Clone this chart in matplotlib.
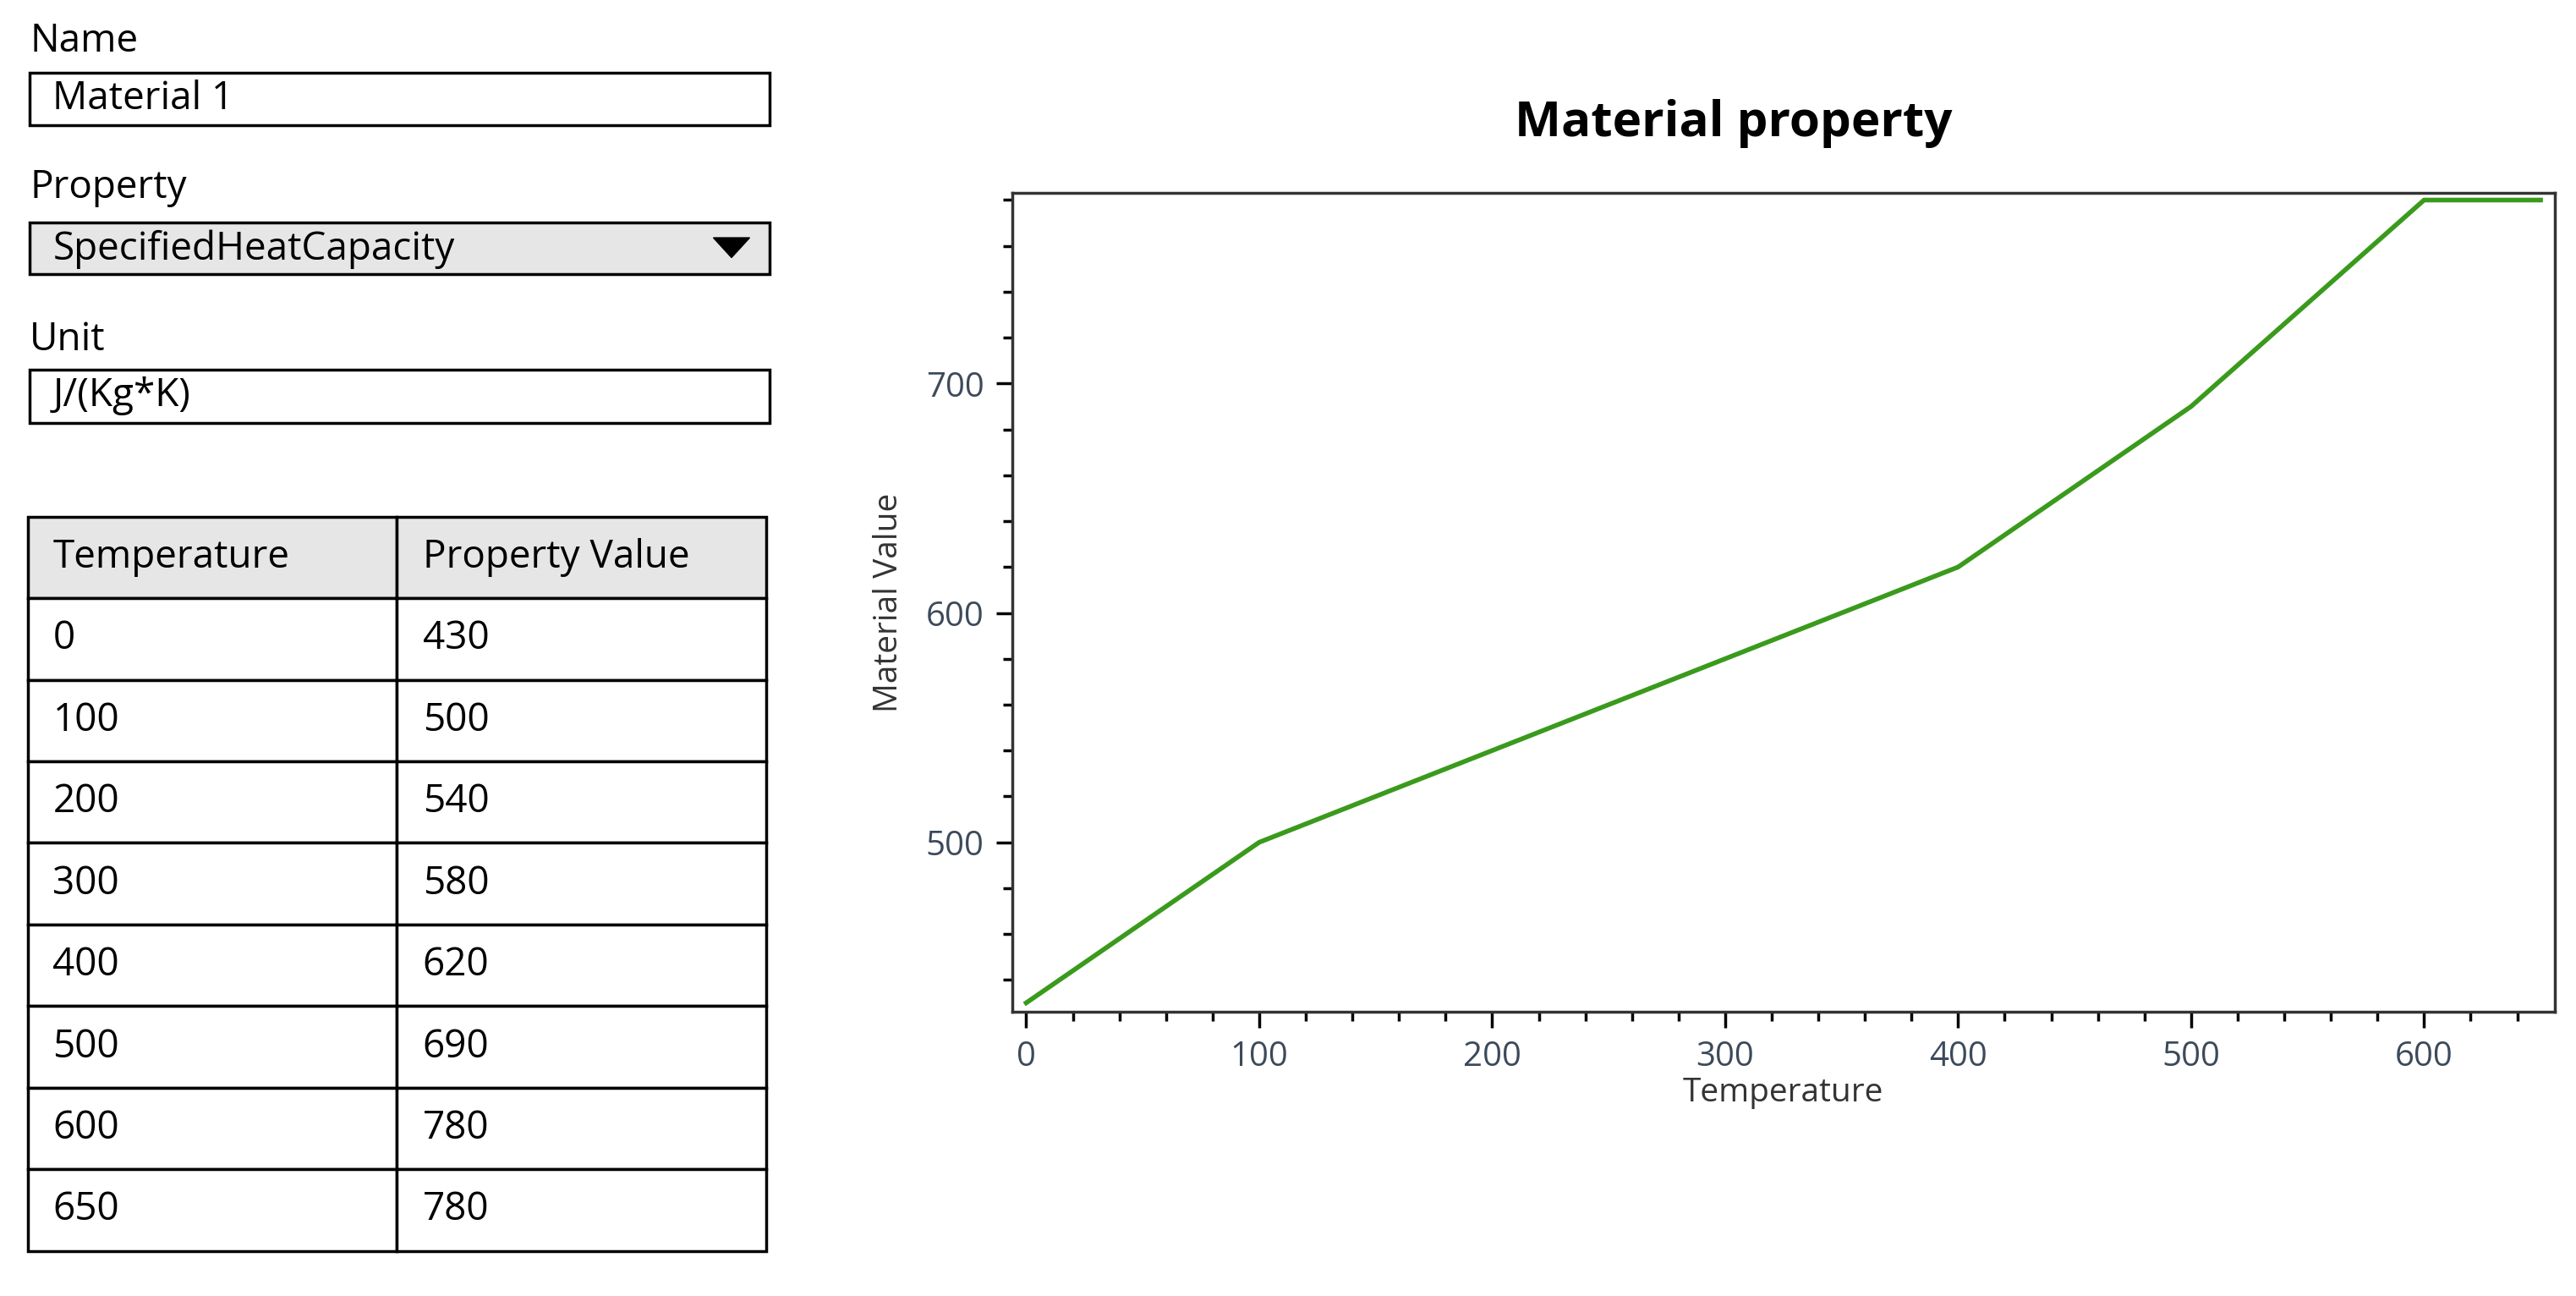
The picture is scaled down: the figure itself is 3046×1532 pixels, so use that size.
import matplotlib
matplotlib.use("Agg")
import matplotlib.pyplot as plt
from matplotlib.patches import Rectangle, Polygon
from matplotlib.ticker import MultipleLocator

temperature = [0, 100, 200, 300, 400, 500, 600, 650]
property_value = [430, 500, 540, 580, 620, 690, 780, 780]
material_name = "Material 1"
property_name = "SpecifiedHeatCapacity"
unit_name = "J/(Kg*K)"

W, H = 1560.0, 785.0  # layout in reference-display pixels


def fx(x):
    return x / W


def fy(y):
    return 1 - y / H


fig = plt.figure(figsize=(30.46, 15.32), dpi=100)
plt.rcParams["font.family"] = ["Open Sans", "DejaVu Sans"]
FS = 33


def box(x0, y0, x1, y1, fill="white"):
    fig.add_artist(Rectangle((fx(x0), fy(y1)), fx(x1 - x0), (y1 - y0) / H,
                             transform=fig.transFigure, facecolor=fill,
                             edgecolor="black", linewidth=2.5))


# form fields
fig.text(fx(18), fy(25), "Name", fontsize=FS, va="center")
box(18, 44, 466, 76)
fig.text(fx(32), fy(60), material_name, fontsize=FS, va="center")

fig.text(fx(18), fy(114), "Property", fontsize=FS, va="center")
box(18, 135, 466, 166, fill="#e6e6e6")
fig.text(fx(32), fy(151), property_name, fontsize=FS, va="center")
fig.add_artist(Polygon([(fx(432), fy(144)), (fx(454), fy(144)), (fx(443), fy(156))],
                       closed=True, transform=fig.transFigure, color="black"))

fig.text(fx(18), fy(206), "Unit", fontsize=FS, va="center")
box(18, 224, 466, 256)
fig.text(fx(32), fy(240), unit_name, fontsize=FS, va="center")

# table
row_h = 49.4
top = 313
box(17, top, 240, top + row_h, fill="#e6e6e6")
box(240, top, 464, top + row_h, fill="#e6e6e6")
fig.text(fx(32), fy(top + row_h / 2), "Temperature", fontsize=FS, va="center")
fig.text(fx(256), fy(top + row_h / 2), "Property Value", fontsize=FS, va="center")
for i, (t, v) in enumerate(zip(temperature, property_value)):
    y0 = top + row_h * (i + 1)
    box(17, y0, 240, y0 + row_h)
    box(240, y0, 464, y0 + row_h)
    fig.text(fx(32), fy(y0 + row_h / 2), str(t), fontsize=FS, va="center")
    fig.text(fx(256), fy(y0 + row_h / 2), str(v), fontsize=FS, va="center")

# chart
ax = fig.add_axes([fx(613), fy(613), fx(1547 - 613), (613 - 117) / H])
ax.plot(temperature, property_value, color="#3a9a1c", linewidth=4)
ax.set_xlim(-6, 656)
ax.set_ylim(426, 783)
ax.xaxis.set_major_locator(MultipleLocator(100))
ax.xaxis.set_minor_locator(MultipleLocator(20))
ax.yaxis.set_major_locator(MultipleLocator(100))
ax.yaxis.set_minor_locator(MultipleLocator(20))
ax.tick_params(which="major", length=14, width=2.5, labelsize=29, labelcolor="#3c4a5a", pad=10)
ax.tick_params(which="minor", length=8, width=2.5)
for s in ax.spines.values():
    s.set_linewidth(2.5)
    s.set_color("#333333")
ax.set_xlabel("Temperature", fontsize=28, color="#333333", labelpad=2)
ax.set_ylabel("Material Value", fontsize=28, color="#333333", labelpad=18)
fig.text(fx(1050), fy(75), "Material property", fontsize=42, fontweight="bold",
         ha="center", va="center")

fig.savefig("out.png", dpi=100)
